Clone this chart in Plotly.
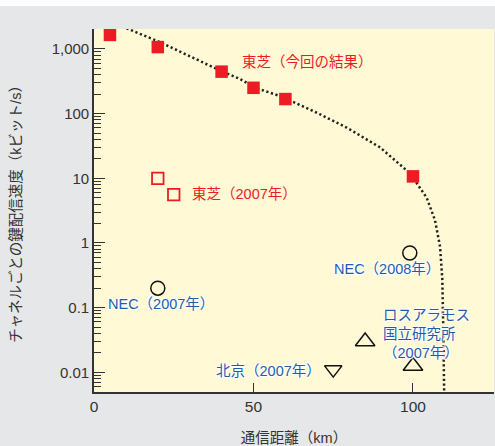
import plotly.graph_objects as go

# --- data ---
toshiba_now_x = [5, 20, 40, 50, 60, 100]
toshiba_now_y = [1650, 1070, 446, 251, 168, 10.7]

toshiba_2007_x = [20, 25]
toshiba_2007_y = [10, 5.6]

nec_x = [20, 99]
nec_y = [0.2, 0.7]

losalamos_x = [85, 100]
losalamos_y = [0.030, 0.0125]

beijing_x = [75]
beijing_y = [0.011]

curve_x = [10.2, 20.3, 40.3, 45.8, 50.6, 58.3, 68.7, 79.2, 89.7, 99.1, 104.3, 106.9, 108.5, 109.2, 109.5, 109.8]
curve_y = [2090, 1300, 446, 343, 251, 187, 110, 61, 30, 11.9, 5.0, 2.25, 0.87, 0.27, 0.045, 0.004]

y_tickvals = [1000, 100, 10, 1, 0.1, 0.01]
y_ticktext = ["1,000", "100", "10", "1", "0.1", "0.01"]
x_tickvals = [0, 50, 100]

RED = "#ED1C24"
BLUE = "#1F5DAA"
DARK = "#333333"
FONT = "Liberation Sans, Noto Sans CJK JP"
HALO = "1px 1px 1px #fff, -1px -1px 1px #fff, 1px -1px 1px #fff, -1px 1px 1px #fff, 0 0 2px #fff"

minor_vals = [m * 10.0 ** e for e in range(-3, 4) for m in range(2, 10)]

fig = go.Figure()
fig.add_trace(go.Scatter(x=curve_x, y=curve_y, mode="lines",
                         line=dict(color="#222222", width=2.5, dash="2.2px,2.6px"),
                         hoverinfo="skip"))
fig.add_trace(go.Scatter(x=toshiba_now_x, y=toshiba_now_y, mode="markers",
                         marker=dict(symbol="square", size=12.5, color=RED, line=dict(width=0))))
fig.add_trace(go.Scatter(x=toshiba_2007_x, y=toshiba_2007_y, mode="markers",
                         marker=dict(symbol="square-open", size=11.5, color=RED, line=dict(width=1.8, color=RED))))
fig.add_trace(go.Scatter(x=nec_x, y=nec_y, mode="markers",
                         marker=dict(symbol="circle-open", size=14, color="#111", line=dict(width=1.5, color="#111"))))
fig.add_trace(go.Scatter(x=losalamos_x, y=losalamos_y, mode="markers",
                         marker=dict(symbol="triangle-up-open", size=17, color="#111", line=dict(width=1.5, color="#111"))))
fig.add_trace(go.Scatter(x=beijing_x, y=beijing_y, mode="markers",
                         marker=dict(symbol="triangle-down-open", size=15, color="#111", line=dict(width=1.5, color="#111"))))

ann = [
    dict(text="東芝（今回の結果）", x=45.8, y=2.80, xanchor="left", color=RED),
    dict(text="東芝（2007年）", x=30.1, y=0.753, xanchor="left", color=RED),
    dict(text="NEC（2007年）", x=3.76, y=-0.948, xanchor="left", color=BLUE),
    dict(text="NEC（2008年）", x=109.0, y=-0.407, xanchor="right", color=BLUE),
    dict(text="ロスアラモス<br>国立研究所<br>（2007年）", x=89.9, y=-1.404, xanchor="left", color=BLUE),
    dict(text="北京（2007年）", x=71.7, y=-1.984, xanchor="right", color=BLUE),
]
for a in ann:
    fig.add_annotation(x=a["x"], y=a["y"], xref="x", yref="y", text=a["text"], showarrow=False,
                       xanchor=a["xanchor"], yanchor="middle", align="left",
                       font=dict(family=FONT, size=14.5, color=a["color"],
                                 shadow=HALO if a["color"] == BLUE else "none"))

# white strip at top of the figure
fig.add_shape(type="rect", xref="paper", yref="paper", x0=-0.5, x1=1.5,
              y0=1 + 23 / 363, y1=1.2, fillcolor="white", line=dict(width=0), layer="below")

fig.update_layout(
    width=495, height=446,
    margin=dict(l=94, r=1, t=29, b=54),
    paper_bgcolor="#E6E7E9",
    plot_bgcolor="#FFF9D5",
    showlegend=False,
    font=dict(family=FONT, size=15, color=DARK),
)
fig.update_xaxes(range=[0, 125.4], tickvals=x_tickvals, ticks="inside", ticklen=9, tickwidth=1.2,
                 tickcolor=DARK, showline=True, linecolor=DARK, linewidth=1.6, showgrid=False,
                 zeroline=False, automargin=False, tickfont=dict(size=15.5, color=DARK),
                 title=dict(text="通信距離（km）", font=dict(size=14.5, color=DARK), standoff=22))
fig.update_yaxes(type="log", range=[-2.305, 3.309], tickvals=y_tickvals, ticktext=y_ticktext,
                 ticks="inside", ticklen=11, tickwidth=1.2, tickcolor=DARK,
                 minor=dict(ticks="inside", ticklen=7, tickwidth=1, tickcolor=DARK, tickvals=minor_vals),
                 showline=True, linecolor=DARK, linewidth=1.6, showgrid=False, zeroline=False,
                 automargin=False, tickfont=dict(size=15, color=DARK),
                 title=dict(text="チャネルごとの鍵配信速度（kビット/s）", font=dict(size=14.5, color=DARK), standoff=27))

fig.write_html("out.html", config={"displayModeBar": False},
               post_script="document.body.style.margin='0';document.body.style.overflow='hidden';")
